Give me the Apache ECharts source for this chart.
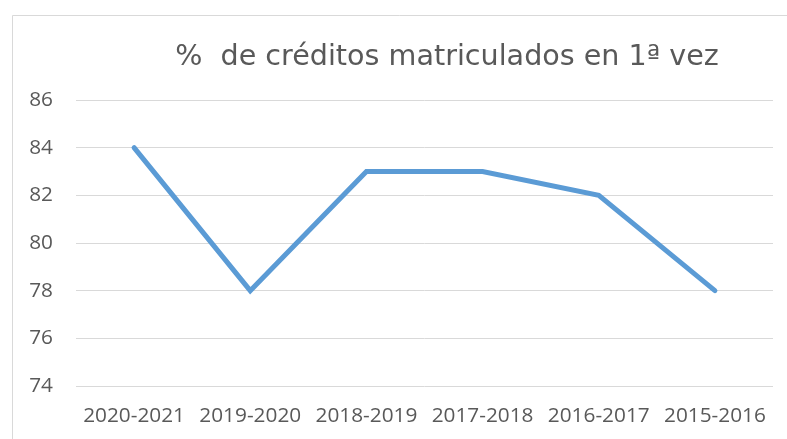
<!DOCTYPE html>
<html><head><meta charset="utf-8">
<script src="https://cdn.jsdelivr.net/npm/echarts@6/dist/echarts.min.js"></script>
<style>html,body{margin:0;padding:0;background:#fff}#c{width:787px;height:439px}</style>
</head><body><div id="c"></div>
<script>
const categories = ['2020-2021','2019-2020','2018-2019','2017-2018','2016-2017','2015-2016'];
const values = [84, 78, 83, 83, 82, 78];
const titleText = '%  de créditos matriculados en 1ª vez';
const yMin = 74, yMax = 86, yStep = 2;

const chart = echarts.init(document.getElementById('c'), null, {renderer:'canvas'});
chart.setOption({
  animation:false,
  backgroundColor:'#fff',
  title:{text:titleText, left:442, top:38, textAlign:'center',
    textStyle:{fontFamily:'DejaVu Sans', fontSize:28.6, fontWeight:'normal', color:'#595959'}},
  graphic:[
    {type:'line', shape:{x1:12.5,y1:15.5,x2:787,y2:15.5}, style:{stroke:'#d9d9d9',lineWidth:1}},
    {type:'line', shape:{x1:12.5,y1:15.5,x2:12.5,y2:439}, style:{stroke:'#d9d9d9',lineWidth:1}}
  ],
  grid:{left:76, right:14, top:100, bottom:53, containLabel:false},
  xAxis:{type:'category', data:categories, boundaryGap:true,
    axisLine:{show:false}, axisTick:{show:false},
    axisLabel:{color:'#595959', fontFamily:'Open Sans', fontSize:20.8, margin:20, interval:0}},
  yAxis:{type:'value', min:yMin, max:yMax, interval:yStep,
    axisLine:{show:false}, axisTick:{show:false},
    splitLine:{lineStyle:{color:'#d9d9d9', width:1}},
    axisLabel:{color:'#595959', fontFamily:'Open Sans', fontSize:20.8, margin:23}},
  series:[{type:'line', data:values, symbol:'none',
    lineStyle:{color:'#5b9bd5', width:5, cap:'round', join:'miter'}}]
});
</script></body></html>
